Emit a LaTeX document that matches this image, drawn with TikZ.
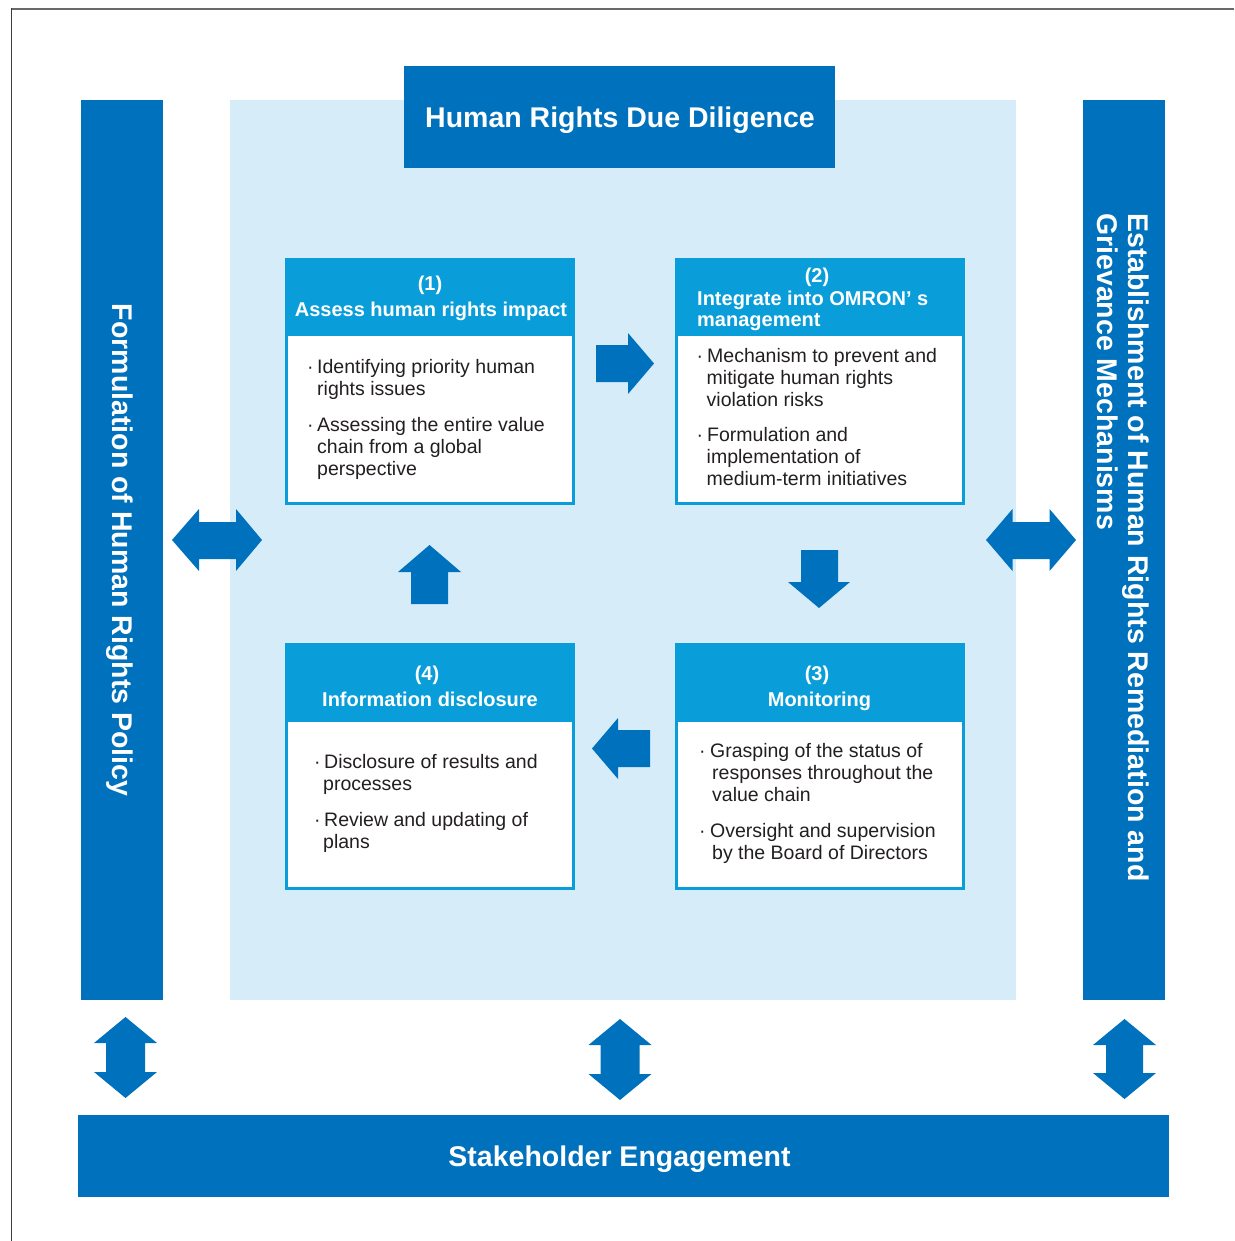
\documentclass[tikz,border=0pt]{standalone}
\usepackage{fontspec}
\setmainfont{Liberation Sans}
\definecolor{dblue}{RGB}{0,113,188}
\definecolor{cblue}{RGB}{9,158,217}
\definecolor{lblue}{RGB}{214,236,249}
\definecolor{txt}{RGB}{35,31,32}
\definecolor{framegray}{RGB}{105,105,105}
\definecolor{framedark}{RGB}{60,60,60}
\newcommand\bdot[1]{\makebox[#1pt][l]{·}}
\begin{document}
\begin{tikzpicture}[x=1pt,y=-1pt,
  bigtxt/.style={font=\fontsize{28.5}{31}\selectfont\bfseries, text=white, inner sep=0},
  hdtxt/.style={font=\fontsize{20}{22}\selectfont\bfseries, text=white, inner sep=0},
  bodytxt/.style={font=\fontsize{19.5}{22}\selectfont, text=txt, inner sep=0, align=left, anchor=north west},
  plate/.style={fill=#1, inner sep=0, outer sep=0, draw=none},
  boxbody/.style={fill=white, draw=cblue, line width=3pt, inner sep=0, minimum width=287, minimum height=244},
  boxhead/.style={fill=cblue, inner sep=0, minimum width=290},
  blockarrow/.style={fill=dblue}
]
\useasboundingbox (0,0) rectangle (1234,1241);
% frame lines
\draw[framegray, line width=1.6pt] (11,8.8) -- (1234,8.8);
\draw[framedark, line width=1.3pt] (11.6,8) -- (11.6,1241);

% background plates
\node[plate=lblue, minimum width=786, minimum height=900] (area) at (623,550) {};
\node[plate=dblue, minimum width=82, minimum height=900] (lbar) at (122,550) {};
\node[plate=dblue, minimum width=82, minimum height=900] (rbar) at (1124,550) {};
\node[plate=dblue, minimum width=431, minimum height=102] (title) at (619.5,117) {};
\node[plate=dblue, minimum width=1091, minimum height=82] (sbar) at (623.5,1156) {};

\node[bigtxt, anchor=base] (titletxt) at (620,127.5) {Human Rights Due Diligence};
\node[bigtxt, anchor=base] (stxt) at (619.5,1166) {Stakeholder Engagement};
\node[bigtxt, rotate=-90, anchor=base] (ltxt) at (112,550) {Formulation of Human Rights Policy};
\node[bigtxt, rotate=-90, anchor=base west] (rtxta) at (1128,213) {Establishment of Human Rights Remediation and};
\node[bigtxt, rotate=-90, anchor=base west] (rtxtb) at (1097,213) {Grievance Mechanisms};

% box 1
\node[boxbody] (b1) at (430,381.5) {};
\node[boxhead, minimum height=78] (h1) at (430,297) {};
\node[hdtxt, anchor=base] (h1a) at (430,290) {(1)};
\node[hdtxt, anchor=base] (h1b) at (431,316) {Assess human rights impact};
\node[bodytxt] (t1) at (307,357.6) {\strut\bdot{10}Identifying priority human\\
\hspace*{10pt}rights issues\\[14pt]
\bdot{10}Assessing the entire value\\
\hspace*{10pt}chain from a global\\
\hspace*{10pt}perspective};

% box 2
\node[boxbody] (b2) at (820,381.5) {};
\node[boxhead, minimum height=78] (h2) at (820,297) {};
\node[hdtxt, anchor=base] (h2a) at (817,282) {(2)};
\node[hdtxt, anchor=base west] (h2b) at (697,305) {Integrate into OMRON’ s};
\node[hdtxt, anchor=base west] (h2c) at (697,326) {management};
\node[bodytxt] (t2) at (696.5,346.6) {\strut\bdot{10.5}Mechanism to prevent and\\
\hspace*{10pt}mitigate human rights\\
\hspace*{10pt}violation risks\\[13pt]
\bdot{10.5}Formulation and\\
\hspace*{10pt}implementation of\\
\hspace*{10pt}medium-term initiatives};

% box 3
\node[boxbody] (b3) at (820,766.5) {};
\node[boxhead, minimum height=79] (h3) at (820,682.5) {};
\node[hdtxt, anchor=base] (h3a) at (817,680) {(3)};
\node[hdtxt, anchor=base] (h3b) at (819.5,706) {Monitoring};
\node[bodytxt] (t3) at (699,741.6) {\strut\bdot{11}Grasping of the status of\\
\hspace*{13pt}responses throughout the\\
\hspace*{13pt}value chain\\[14pt]
\bdot{11}Oversight and supervision\\
\hspace*{13pt}by the Board of Directors};

% box 4
\node[boxbody] (b4) at (430,766.5) {};
\node[boxhead, minimum height=79] (h4) at (430,682.5) {};
\node[hdtxt, anchor=base] (h4a) at (427,680) {(4)};
\node[hdtxt, anchor=base] (h4b) at (430,706) {Information disclosure};
\node[bodytxt] (t4) at (314,752.6) {\strut\bdot{10}Disclosure of results and\\
\hspace*{9pt}processes\\[14pt]
\bdot{10}Review and updating of\\
\hspace*{9pt}plans};

% cycle arrows
\fill[blockarrow] (596,345) -- (628,345) -- (628,333) -- (654,363.5) -- (628,394) -- (628,382) -- (596,382) -- cycle;
\fill[blockarrow] (801,550) -- (838,550) -- (838,582) -- (850,582) -- (819,608) -- (788,582) -- (801,582) -- cycle;
\fill[blockarrow] (650,730) -- (618,730) -- (618,718) -- (592,748.5) -- (618,779) -- (618,767) -- (650,767) -- cycle;
\fill[blockarrow] (411,604) -- (411,572) -- (398,572) -- (429.5,545) -- (461,572) -- (448,572) -- (448,604) -- cycle;

% horizontal double arrows
\fill[blockarrow] (172,540) -- (199,509) -- (199,522) -- (236,522) -- (236,509) -- (262,540) -- (236,571) -- (236,559) -- (199,559) -- (199,571) -- cycle;
\fill[blockarrow] (986,540) -- (1012.5,509) -- (1012.5,522) -- (1049.5,522) -- (1049.5,509) -- (1076,540) -- (1049.5,571) -- (1049.5,559) -- (1012.5,559) -- (1012.5,571) -- cycle;

% vertical double arrows
\fill[blockarrow] (125.5,1017) -- (157,1043) -- (145,1043) -- (145,1072) -- (157,1072) -- (125.5,1098) -- (94,1072) -- (106,1072) -- (106,1043) -- (94,1043) -- cycle;
\fill[blockarrow] (620,1019) -- (651.5,1045) -- (639.5,1045) -- (639.5,1074) -- (651.5,1074) -- (620,1100) -- (588.5,1074) -- (600.5,1074) -- (600.5,1045) -- (588.5,1045) -- cycle;
\fill[blockarrow] (1124.5,1019) -- (1156,1045) -- (1143,1045) -- (1143,1073) -- (1156,1073) -- (1124.5,1099) -- (1093,1073) -- (1106,1073) -- (1106,1045) -- (1093,1045) -- cycle;
\end{tikzpicture}
\end{document}
